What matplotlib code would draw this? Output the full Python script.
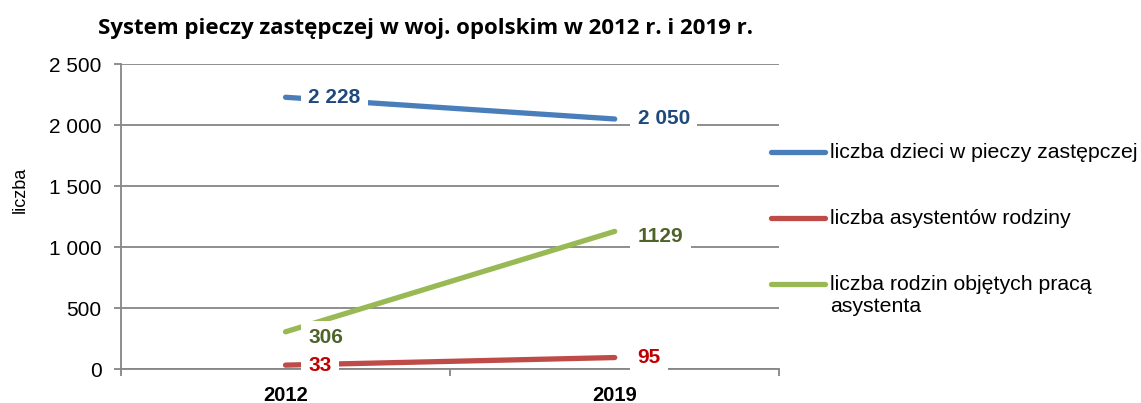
import matplotlib
matplotlib.use("Agg")
import matplotlib.pyplot as plt
from matplotlib.lines import Line2D
from matplotlib.ticker import FuncFormatter, FixedLocator

plt.rcParams['font.family'] = ['Liberation Sans', 'DejaVu Sans']

years = ['2012', '2019']
series_names = ['liczba dzieci w pieczy zastępczej',
                'liczba asystentów rodziny',
                'liczba rodzin objętych pracą\nasystenta']
dzieci = [2228, 2050]
asystenci = [33, 95]
rodziny = [306, 1129]
dzieci_labels = ['2 228', '2 050']
asystenci_labels = ['33', '95']
rodziny_labels = ['306', '1129']

line_colors = ['#4A7EBB', '#BE4B48', '#98B954']
text_colors = ['#1F497D', '#C00000', '#4F6228']

W, H = 1141, 403
fig = plt.figure(figsize=(W / 100, H / 100), dpi=100)
ax = fig.add_axes([0.106, 0.084, 0.577, 0.757])

x = list(range(len(years)))
all_values = [dzieci, asystenci, rodziny]
all_labels = [dzieci_labels, asystenci_labels, rodziny_labels]
dy = [0, 0, -4]

for vals, name, lc in zip(all_values, series_names, line_colors):
    ax.plot(x, vals, color=lc, lw=3.8, solid_capstyle='round', label=name, zorder=3)

for vals, labs, tc, off in zip(all_values, all_labels, text_colors, dy):
    for xi, v, lab in zip(x, vals, labs):
        ax.annotate(lab, (xi, v), xytext=(16.5, off), textcoords='offset points',
                    ha='left', va='center', fontsize=15, fontweight='bold', color=tc,
                    bbox=dict(boxstyle='square,pad=0.35', fc='white', ec='none'),
                    zorder=4)

ax.set_xlim(-0.5, 1.5)
ax.set_ylim(0, 2500)
ax.set_yticks([0, 500, 1000, 1500, 2000, 2500])
ax.yaxis.set_major_formatter(FuncFormatter(lambda v, p: f'{int(v):,}'.replace(',', ' ')))
ax.set_xticks(x)
ax.set_xticklabels(years, fontweight='bold', fontsize=14.5)
ax.xaxis.set_minor_locator(FixedLocator([-0.5, 0.5, 1.5]))
ax.xaxis.set_zorder(5)
ax.tick_params(axis='x', which='major', length=0, pad=12)
ax.tick_params(axis='x', which='minor', length=5, color='#868686', width=1.3)
ax.tick_params(axis='y', length=5, color='#868686', width=1.3, labelsize=15, pad=9)

ax.grid(axis='y', color='#868686', lw=1.3, zorder=0)
for s in ['top', 'right']:
    ax.spines[s].set_visible(False)
for s in ['left', 'bottom']:
    ax.spines[s].set_color('#868686')
    ax.spines[s].set_linewidth(1.3)

ax.set_ylabel('liczba', fontsize=13)
ax.yaxis.set_label_coords(-0.14, 0.587)

fig.text(0.3725, 0.93, 'System pieczy zastępczej w woj. opolskim w 2012 r. i 2019 r.',
         ha='center', va='center', fontsize=16, fontweight='bold', family='Open Sans')

# legend drawn by hand so the two-line entry keeps its line at the first row
legend_y = [152, 218, 284]
for name, lc, ly in zip(series_names, line_colors, legend_y):
    fig.add_artist(Line2D([771 / W, 825 / W], [1 - ly / H, 1 - ly / H], color=lc, lw=3.8,
                          solid_capstyle='round', transform=fig.transFigure))
    for i, part in enumerate(name.split('\n')):
        fig.text(830 / W, 1 - (ly + 23 * i) / H, part, fontsize=15.3, ha='left', va='center')

fig.savefig('out.png', dpi=100)
